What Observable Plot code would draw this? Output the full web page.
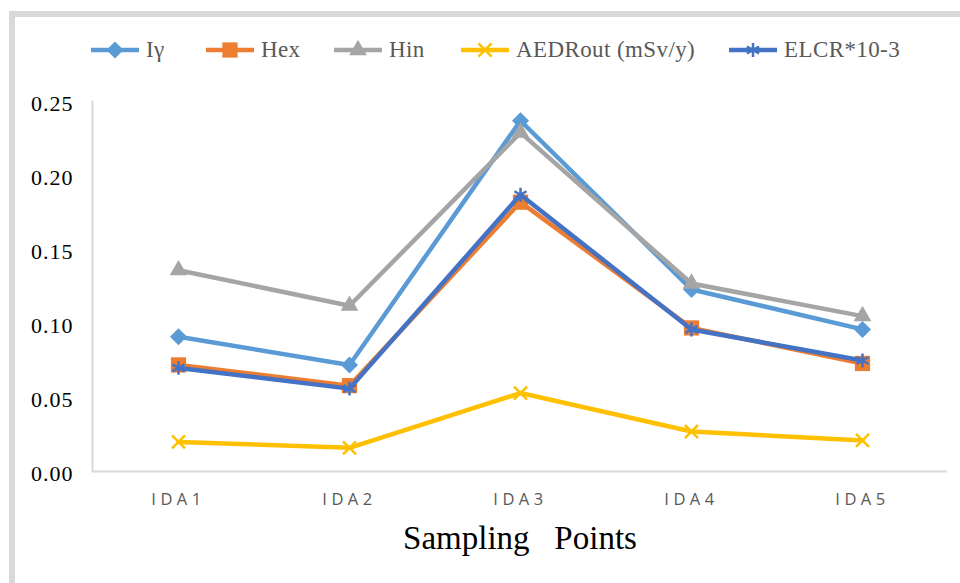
<!DOCTYPE html>
<html>
<head>
<meta charset="utf-8">
<script src="https://cdn.jsdelivr.net/npm/d3@7"></script>
<script src="https://cdn.jsdelivr.net/npm/@observablehq/plot@0.6"></script>
<style>
  body { margin: 0; background: #fff; }
  #wrap { position: relative; width: 960px; height: 583px; overflow: hidden; background: #fff; }
  #frame { position: absolute; left: 9px; top: 11px; right: 0; bottom: 0;
           border-top: 6px solid #d9d9d9; border-left: 6px solid #d9d9d9; }
  #legend { position: absolute; left: 0; top: 0; width: 960px; height: 80px; }
  .item { position: absolute; top: 38px; height: 24px; display: flex; align-items: center;
          font-family: "Liberation Serif", serif; font-size: 23px; letter-spacing: 0.4px;
          color: #595959; white-space: nowrap; }
  .item svg { margin-right: 6px; }
  #chart { position: absolute; left: 0; top: 80px; }
  #chart g[aria-label="x-axis tick label"] text { letter-spacing: 4.5px; }
  #chart g[aria-label="y-axis tick label"] text { letter-spacing: 1px; }
</style>
</head>
<body>
<div id="wrap">
  <div id="frame"></div>
  <div id="legend"></div>
  <div id="chart"></div>
</div>
<script>
// ---- data ----
const categories = ["IDA1", "IDA2", "IDA3", "IDA4", "IDA5"];
const seriesNames = ["Iγ", "Hex", "Hin", "AEDRout (mSv/y)", "ELCR*10-3"];
const iGamma = [0.091, 0.072, 0.237, 0.123, 0.096];
const hex    = [0.072, 0.058, 0.182, 0.097, 0.073];
const hin    = [0.136, 0.112, 0.229, 0.127, 0.105];
const aedrOut = [0.020, 0.016, 0.053, 0.027, 0.021];
const elcr   = [0.070, 0.056, 0.187, 0.096, 0.075];
const yTicks = [0, 0.05, 0.10, 0.15, 0.20, 0.25];
const xTitle = "Sampling\u00a0\u00a0 Points";

// ---- styles ----
const colors = ["#5B9BD5", "#ED7D31", "#A5A5A5", "#FFC000", "#4472C4"];
const excelDiamond = {
  draw(context, size) {
    const h = Math.sqrt(size / 2);
    context.moveTo(0, -h); context.lineTo(h, 0); context.lineTo(0, h); context.lineTo(-h, 0); context.closePath();
  }
};
const symbols = [excelDiamond, d3.symbolSquare, d3.symbolTriangle, d3.symbolTimes, d3.symbolAsterisk];
const radii = [6.8, 8.6, 6.6, 6.0, 6.6];
const filled = [true, true, true, false, false];
const legendLeft = [90, 205, 333, 460, 728];

const valuesBySeries = [iGamma, hex, hin, aedrOut, elcr];
const rows = [];
seriesNames.forEach((s, si) => categories.forEach((c, ci) =>
  rows.push({series: s, si, cat: c, value: valuesBySeries[si][ci]})));

const marks = [
  Plot.ruleY([0], {stroke: "#d9d9d9", strokeWidth: 2}),
  Plot.frame({anchor: "left", stroke: "#d9d9d9", strokeWidth: 2}),
  Plot.axisY({ticks: yTicks, tickFormat: d => d.toFixed(2), tickSize: 0, tickPadding: 19, dy: 2,
              fontSize: 22, fontFamily: "Liberation Serif", fill: "#000", label: null}),
  Plot.axisX({tickSize: 0, tickPadding: 22, fontSize: 16.5, fontFamily: "Open Sans",
              fill: "#595959", label: null}),
  Plot.text([xTitle], {frameAnchor: "bottom", dy: 77, fontSize: 33,
              fontFamily: "Liberation Serif", fill: "#000"})
];
seriesNames.forEach((s, si) => {
  const data = rows.filter(d => d.si === si);
  marks.push(Plot.line(data, {x: "cat", y: "value", stroke: colors[si], strokeWidth: 4.5}));
  marks.push(Plot.dot(data, filled[si]
    ? {x: "cat", y: "value", symbol: () => symbols[si], r: radii[si], fill: colors[si], stroke: "none"}
    : {x: "cat", y: "value", symbol: () => symbols[si], r: radii[si], fill: "none", stroke: colors[si], strokeWidth: 2.5}));
});

const chart = Plot.plot({
  width: 960,
  height: 503,
  marginTop: 21,
  marginBottom: 112,
  marginLeft: 92,
  marginRight: 13,
  style: {background: "transparent", overflow: "visible"},
  x: {type: "point", domain: categories, padding: 0.5, axis: null},
  y: {domain: [0, 0.25], axis: null},
  symbol: {type: "identity"},
  marks
});
document.getElementById("chart").appendChild(chart);

// ---- legend ----
const legend = d3.select("#legend");
seriesNames.forEach((s, si) => {
  const item = legend.append("div").attr("class", "item").style("left", legendLeft[si] + "px");
  const svg = item.append("svg").attr("width", 50).attr("height", 24);
  svg.append("line").attr("x1", 1).attr("x2", 49).attr("y1", 12).attr("y2", 12)
    .attr("stroke", colors[si]).attr("stroke-width", 4.5);
  const size = Math.PI * radii[si] * radii[si];
  svg.append("path").attr("transform", "translate(25,12)")
    .attr("d", d3.symbol(symbols[si], size)())
    .attr("fill", filled[si] ? colors[si] : "none")
    .attr("stroke", filled[si] ? "none" : colors[si])
    .attr("stroke-width", 2.5);
  item.append("span").text(s);
});
</script>
</body>
</html>
